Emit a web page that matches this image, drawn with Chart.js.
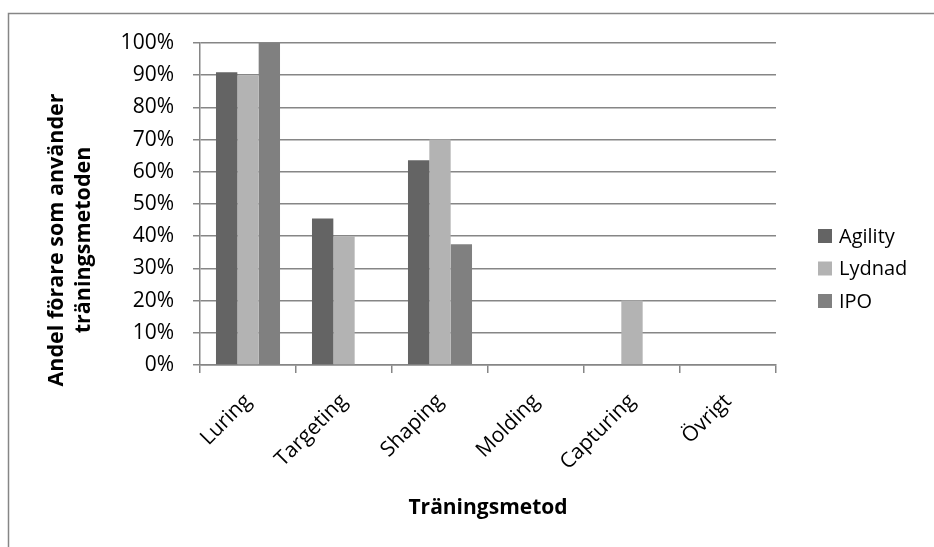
<!DOCTYPE html>
<html><head><meta charset="utf-8">
<script src="https://cdn.jsdelivr.net/npm/chart.js@4.4.0/dist/chart.umd.min.js"></script>
<style>html,body{margin:0;padding:0;background:#fff;overflow:hidden}#wrap{width:934px;height:547px;position:relative}</style>
</head><body><div id="wrap"><canvas id="c" width="934" height="547"></canvas></div>
<script>
const categories = ['Luring', 'Targeting', 'Shaping', 'Molding', 'Capturing', 'Övrigt'];
const seriesNames = ['Agility', 'Lydnad', 'IPO'];
const agility = [90.9, 45.5, 63.6, 0, 0, 0];
const lydnad = [90, 40, 70, 0, 20, 0];
const ipo = [100, 0, 37.5, 0, 0, 0];
const yTickValues = [0, 10, 20, 30, 40, 50, 60, 70, 80, 90, 100];
const xTitle = 'Träningsmetod';
const yTitleLines = ['Andel förare som använder', 'träningsmetoden'];

const FONT = '"Open Sans", Lato, sans-serif';
const GRID = '#868686';
const colors = ['#646464', '#b3b3b3', '#808080'];

const decor = {
  id: 'decor',
  beforeDraw(chart) {
    const ctx = chart.ctx;
    ctx.save();
    ctx.strokeStyle = GRID; ctx.lineWidth = 1.5;
    ctx.beginPath(); ctx.moveTo(8.5, 547); ctx.lineTo(8.5, 13.5); ctx.lineTo(934, 13.5); ctx.stroke();
    ctx.restore();
  },
  afterDraw(chart) {
    const ctx = chart.ctx;
    ctx.save();
    ctx.translate(70, 240); ctx.rotate(-Math.PI / 2);
    ctx.font = 'bold 21.5px ' + FONT; ctx.textAlign = 'center'; ctx.textBaseline = 'middle'; ctx.fillStyle = '#000';
    ctx.fillText(yTitleLines[0], 0, -13.5);
    ctx.fillText(yTitleLines[1], 0, 13.5);
    ctx.restore();
    ctx.save();
    chart.data.datasets.forEach((ds, i) => {
      const y = 236 + i * 32.5;
      ctx.fillStyle = ds.backgroundColor; ctx.fillRect(818, y - 7, 14, 14);
      ctx.fillStyle = '#000'; ctx.font = '20px ' + FONT; ctx.textAlign = 'left'; ctx.textBaseline = 'middle';
      ctx.fillText(ds.label, 839, y + 1);
    });
    ctx.restore();
  }
};

new Chart(document.getElementById('c'), {
  type: 'bar',
  data: {
    labels: categories,
    datasets: [agility, lydnad, ipo].map((d, i) => ({
      label: seriesNames[i], data: d, backgroundColor: colors[i], borderWidth: 0,
      barPercentage: 1, categoryPercentage: 0.667
    }))
  },
  options: {
    responsive: false, animation: false,
    layout: { padding: { top: 43, right: 158, left: 0, bottom: 0 } },
    plugins: { legend: { display: false }, tooltip: { enabled: false }, title: { display: false } },
    scales: {
      x: {
        offset: true,
        grid: { offset: true, drawOnChartArea: false, drawTicks: true, tickLength: 8, color: GRID, lineWidth: 1.5 },
        border: { color: GRID, width: 1.5 },
        ticks: { font: { family: FONT, size: 21 }, color: '#000', minRotation: 45, maxRotation: 45, autoSkip: false, padding: 16 },
        title: { display: true, text: xTitle, color: '#000', font: { family: FONT, size: 21, weight: 'bold' }, padding: { top: 0, bottom: 26 } },
        afterFit(s) { s.height = 182; }
      },
      y: {
        min: 0, max: 100,
        afterBuildTicks(s) { s.ticks = yTickValues.map(v => ({ value: v })); },
        ticks: { callback: v => v + '%', font: { family: FONT, size: 21 }, color: '#000', padding: 19 },
        grid: { color: GRID, lineWidth: 1.5, tickLength: 7, drawTicks: true },
        border: { color: GRID, width: 1.5 },
        afterFit(s) { s.width = 200; }
      }
    }
  },
  plugins: [decor]
});
</script></body></html>
